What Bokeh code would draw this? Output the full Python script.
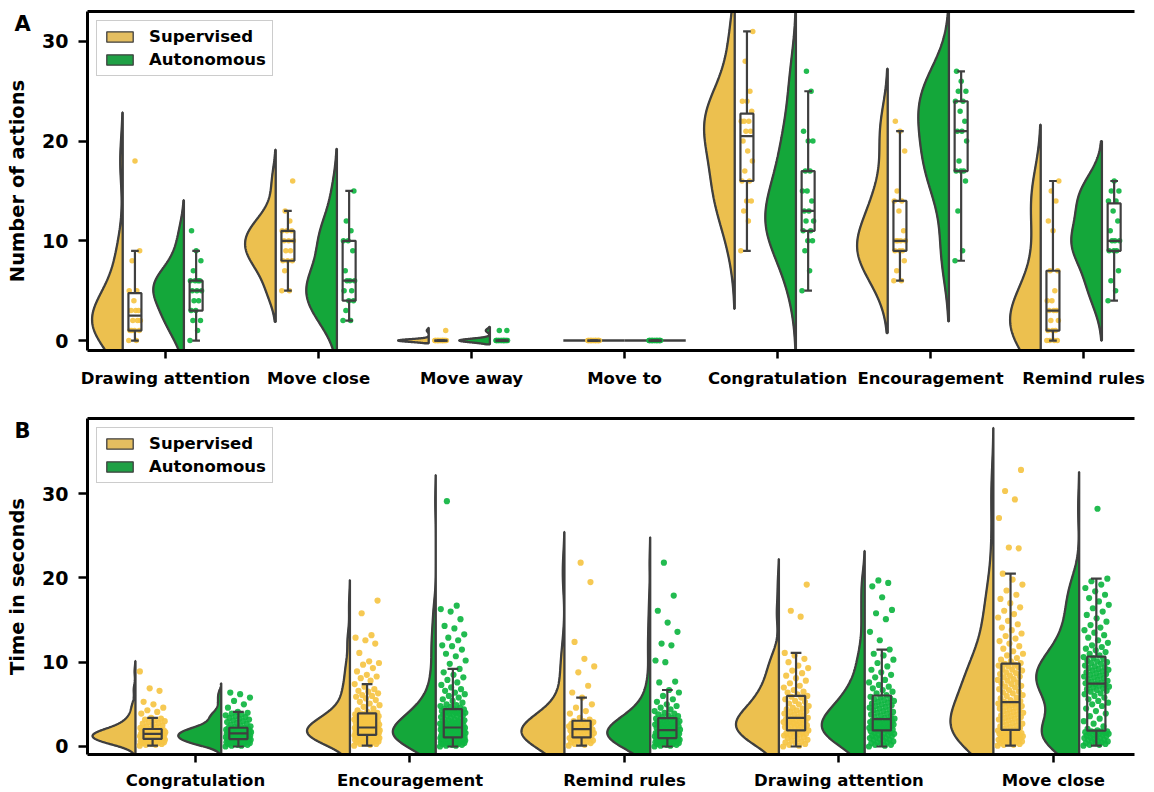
import numpy as np
from bokeh.plotting import figure
from bokeh.layouts import column
from bokeh.models import FixedTicker, LinearAxis, Legend, LegendItem, Label
from bokeh.embed import file_html
from bokeh.resources import INLINE

# ---------------- Panel A data (number of actions) ----------------
cats_a = ["Drawing attention", "Move close", "Move away", "Move to",
          "Congratulation", "Encouragement", "Remind rules"]
a_draw_sup = [0, 0, 1, 1, 1, 1, 2, 2, 2, 3, 3, 3, 4, 5, 5, 8, 9, 18]
a_draw_aut = [0, 1, 2, 2, 3, 3, 4, 4, 5, 5, 5, 6, 6, 6, 6, 7, 8, 9, 11]
a_close_sup = [5, 5, 7, 8, 8, 8, 9, 9, 10, 10, 10, 11, 11, 11, 12, 13, 16]
a_close_aut = [2, 2, 3, 4, 4, 5, 5, 6, 6, 6, 7, 9, 10, 10, 11, 12, 15]
a_away_sup = [0, 0, 0, 0, 0, 0, 0, 0, 0, 0, 0, 0, 0, 0, 0, 0, 1]
a_away_aut = [0, 0, 0, 0, 0, 0, 0, 0, 0, 0, 0, 0, 0, 0, 0, 1, 1]
a_to_sup = [0, 0, 0, 0, 0, 0, 0, 0, 0, 0, 0, 0, 0, 0, 0, 0, 0]
a_to_aut = [0, 0, 0, 0, 0, 0, 0, 0, 0, 0, 0, 0, 0, 0, 0, 0, 0]
a_cong_sup = [9, 12, 13, 14, 14, 16, 16, 17, 18, 19, 20, 21, 21, 22, 22, 22, 23, 24, 24, 25, 28, 31]
a_cong_aut = [5, 7, 9, 10, 10, 11, 11, 12, 12, 13, 13, 14, 15, 15, 17, 17, 20, 20, 21, 25, 27]
a_enc_sup = [6, 6, 7, 8, 9, 9, 9, 10, 10, 10, 10, 11, 13, 14, 14, 15, 19, 21, 22]
a_enc_aut = [8, 9, 13, 16, 17, 17, 17, 18, 20, 21, 21, 22, 23, 24, 24, 25, 25, 26, 27]
a_rem_sup = [0, 0, 0, 0, 1, 1, 1, 2, 2, 3, 3, 3, 4, 4, 5, 7, 7, 11, 12, 14, 15, 16]
a_rem_aut = [4, 5, 6, 7, 9, 9, 9, 10, 10, 10, 11, 12, 13, 14, 14, 15, 15, 16]
a_sup = [a_draw_sup, a_close_sup, a_away_sup, a_to_sup, a_cong_sup, a_enc_sup, a_rem_sup]
a_aut = [a_draw_aut, a_close_aut, a_away_aut, a_to_aut, a_cong_aut, a_enc_aut, a_rem_aut]
yticks_a = [0, 10, 20, 30]

# ---------------- Panel B data (time in seconds) ----------------
cats_b = ["Congratulation", "Encouragement", "Remind rules", "Drawing attention", "Move close"]
b_cong_sup = [0.1, 0.2, 0.2, 0.3, 0.3, 0.4, 0.4, 0.4, 0.5, 0.5, 0.5, 0.6, 0.6, 0.6, 0.7, 0.7, 0.7, 0.7, 0.8, 0.8, 0.8, 0.8,
              0.9, 0.9, 0.9, 1.0, 1.0, 1.0, 1.0, 1.1, 1.1, 1.1, 1.1, 1.2, 1.2, 1.2, 1.2, 1.3, 1.3, 1.3, 1.3, 1.4, 1.4, 1.4, 1.5,
              1.5, 1.5, 1.5, 1.6, 1.6, 1.6, 1.6, 1.7, 1.7, 1.7, 1.7, 1.8, 1.8, 1.8, 1.8, 1.9, 1.9, 1.9, 1.9, 2.0, 2.0, 2.0,
              2.1, 2.2, 2.3, 2.4, 2.5, 2.6, 2.7, 2.8, 2.9, 3.0, 3.1, 3.2, 3.3, 3.4, 3.9, 4.1, 4.3, 4.6, 5.0, 5.3, 6.6, 6.9, 8.9]
b_cong_aut = [0.0, 0.1, 0.1, 0.2, 0.2, 0.3, 0.3, 0.3, 0.4, 0.4, 0.4, 0.5, 0.5, 0.5, 0.6, 0.6, 0.6, 0.6, 0.7, 0.7, 0.7, 0.8, 0.8, 0.8, 0.8,
              0.9, 0.9, 0.9, 1.0, 1.0, 1.0, 1.0, 1.1, 1.1, 1.1, 1.2, 1.2, 1.2, 1.2, 1.3, 1.3, 1.3, 1.3, 1.4, 1.4, 1.4, 1.4, 1.5, 1.5, 1.5,
              1.6, 1.6, 1.6, 1.6, 1.7, 1.7, 1.7, 1.7, 1.8, 1.8, 1.8, 1.8, 1.9, 1.9, 1.9, 2.0, 2.0, 2.0, 2.0, 2.1, 2.1, 2.1, 2.2, 2.2, 2.2,
              2.3, 2.4, 2.5, 2.6, 2.7, 2.8, 2.9, 3.0, 3.1, 3.2, 3.3, 3.4, 3.5, 3.6, 3.7, 3.8, 3.9, 4.0, 4.1, 4.6, 5.0, 5.4, 5.8, 6.2, 6.4]
b_enc_sup = [0.1, 0.2, 0.3, 0.3, 0.4, 0.5, 0.5, 0.6, 0.6, 0.7, 0.7, 0.7, 0.8, 0.8, 0.8, 0.9, 0.9, 0.9, 1.0, 1.0, 1.0, 1.0,
             1.1, 1.1, 1.1, 1.1, 1.2, 1.2, 1.2, 1.2, 1.2, 1.3, 1.3, 1.3, 1.3,
             1.4, 1.4, 1.4, 1.5, 1.5, 1.5, 1.5, 1.6, 1.6, 1.6, 1.6, 1.7, 1.7, 1.7, 1.7, 1.8, 1.8, 1.8, 1.8, 1.9, 1.9, 1.9, 1.9,
             2.0, 2.0, 2.0, 2.0, 2.1, 2.1, 2.1, 2.1, 2.2, 2.2, 2.2, 2.2,
             2.3, 2.3, 2.4, 2.4, 2.5, 2.5, 2.6, 2.6, 2.7, 2.7, 2.8, 2.8, 2.9, 2.9, 3.0, 3.0, 3.1, 3.1, 3.2, 3.2, 3.3, 3.3,
             3.4, 3.4, 3.5, 3.5, 3.6, 3.6, 3.7, 3.7, 3.8, 3.8, 3.8, 3.9, 3.9,
             4.0, 4.1, 4.3, 4.5, 4.7, 4.9, 5.1, 5.3, 5.5, 5.7, 5.9, 6.0, 6.1, 6.3, 6.5, 6.6, 6.8, 7.1, 7.4, 7.8,
             8.1, 8.3, 8.5, 8.9, 9.3, 9.7, 9.9, 10.1, 11.1, 12.2, 12.6, 12.9, 13.2, 15.8, 17.3]
b_enc_aut = [0.0, 0.1, 0.1, 0.2, 0.2, 0.3, 0.3, 0.3, 0.4, 0.4, 0.4, 0.5, 0.5, 0.5, 0.5, 0.6, 0.6, 0.6, 0.6,
             0.7, 0.7, 0.7, 0.7, 0.7, 0.8, 0.8, 0.8, 0.8, 0.8, 0.9, 0.9, 0.9, 0.9, 0.9, 1.0, 1.0, 1.0, 1.0, 1.0, 1.0,
             1.1, 1.1, 1.1, 1.2, 1.2, 1.2, 1.3, 1.3, 1.3, 1.4, 1.4, 1.4, 1.5, 1.5, 1.5, 1.6, 1.6, 1.6, 1.7, 1.7, 1.7,
             1.8, 1.8, 1.8, 1.9, 1.9, 1.9, 2.0, 2.0, 2.0, 2.0, 2.1, 2.1, 2.1, 2.1, 2.2, 2.2, 2.2, 2.2, 2.2,
             2.3, 2.3, 2.4, 2.4, 2.5, 2.5, 2.6, 2.6, 2.7, 2.7, 2.8, 2.8, 2.9, 2.9, 3.0, 3.0, 3.1, 3.1, 3.2, 3.2,
             3.3, 3.4, 3.5, 3.6, 3.7, 3.7, 3.8, 3.8, 3.9, 3.9, 4.0, 4.0, 4.1, 4.1, 4.2, 4.2, 4.3, 4.3, 4.4, 4.4,
             4.5, 4.6, 4.7, 4.8, 4.9, 5.0, 5.2, 5.4, 5.6, 5.8, 6.0, 6.2, 6.4, 6.6, 6.8, 7.0, 7.3, 7.6, 7.9, 8.2,
             8.5, 8.8, 9.2, 9.8, 10.2, 10.7, 11.0, 11.5, 11.9, 12.0, 12.6, 12.9, 13.3, 14.0, 14.3, 15.1, 16.0, 16.3, 16.7, 29.1]
b_rem_sup = [0.1, 0.2, 0.3, 0.4, 0.5, 0.5, 0.6, 0.7, 0.7, 0.8, 0.8, 0.9, 0.9, 1.0, 1.0,
             1.1, 1.2, 1.3, 1.4, 1.5, 1.5, 1.6, 1.7, 1.7, 1.8, 1.8, 1.9, 1.9, 2.0, 2.0,
             2.1, 2.2, 2.2, 2.3, 2.4, 2.4, 2.5, 2.6, 2.6, 2.7, 2.8, 2.8, 2.9, 3.0, 3.0,
             3.2, 3.4, 3.9, 4.2, 4.6, 5.0, 5.8, 6.4, 7.2, 8.8, 9.5, 10.4, 12.4, 19.5, 21.8]
b_rem_aut = [0.0, 0.1, 0.1, 0.2, 0.2, 0.3, 0.3, 0.3, 0.4, 0.4, 0.4, 0.5, 0.5, 0.5, 0.6, 0.6, 0.6, 0.7, 0.7, 0.7,
             0.8, 0.8, 0.8, 0.8, 0.9, 0.9, 0.9,
             1.0, 1.0, 1.0, 1.1, 1.1, 1.1, 1.2, 1.2, 1.2, 1.3, 1.3, 1.3, 1.4, 1.4, 1.4, 1.5, 1.5, 1.5, 1.6, 1.6, 1.6,
             1.7, 1.7, 1.7, 1.8, 1.8, 1.9, 1.9,
             2.0, 2.0, 2.1, 2.1, 2.2, 2.2, 2.3, 2.3, 2.4, 2.4, 2.5, 2.5, 2.6, 2.6, 2.7, 2.7, 2.8, 2.8, 2.9, 2.9,
             3.0, 3.0, 3.1, 3.1, 3.2, 3.2, 3.3,
             3.4, 3.5, 3.6, 3.7, 3.8, 3.9, 4.0, 4.2, 4.4, 4.6, 4.8, 5.0, 5.3, 5.6, 6.0, 6.4, 6.7,
             7.6, 7.7, 10.0, 10.2, 12.0, 12.2, 13.6, 14.7, 16.1, 17.9, 21.8]
b_draw_sup = [0.0, 0.1, 0.2, 0.3, 0.4, 0.5, 0.6, 0.7, 0.8, 0.9, 1.0, 1.1, 1.2, 1.3, 1.4, 1.4, 1.5, 1.6, 1.6, 1.7, 1.8,
              1.9, 2.0, 2.1, 2.2, 2.3, 2.3, 2.4, 2.5, 2.5, 2.6, 2.7, 2.7, 2.8, 2.9, 2.9, 3.0, 3.0, 3.1, 3.2, 3.2, 3.3,
              3.4, 3.5, 3.6, 3.7, 3.8, 3.9, 4.0, 4.1, 4.2, 4.3, 4.4, 4.5, 4.6, 4.8, 5.0, 5.1, 5.3, 5.4, 5.6, 5.8, 5.9,
              6.0, 6.2, 6.4, 6.5, 6.7, 7.0, 7.2, 7.5, 7.8, 8.1, 8.4, 8.7, 9.0, 9.3, 9.6, 10.0, 10.4, 10.8, 11.1,
              15.4, 16.1, 19.2]
b_draw_aut = [0.0, 0.1, 0.2, 0.2, 0.3, 0.4, 0.5, 0.5, 0.6, 0.7, 0.8, 0.8, 0.9, 1.0, 1.0, 1.1, 1.2, 1.2, 1.3, 1.4,
              1.4, 1.5, 1.6, 1.6, 1.7, 1.8, 1.8,
              1.9, 1.9, 2.0, 2.0, 2.1, 2.1, 2.2, 2.2, 2.3, 2.3, 2.4, 2.4, 2.5, 2.5, 2.6, 2.6, 2.7, 2.7, 2.8, 2.8,
              2.9, 2.9, 3.0, 3.0, 3.1, 3.1, 3.2, 3.2,
              3.3, 3.4, 3.5, 3.6, 3.7, 3.8, 3.9, 4.0, 4.1, 4.2, 4.3, 4.4, 4.5, 4.6, 4.7, 4.8, 4.9, 5.0, 5.1, 5.2,
              5.3, 5.4, 5.5, 5.6, 5.7, 5.8, 5.9,
              6.1, 6.3, 6.5, 6.7, 6.9, 7.1, 7.3, 7.6, 7.9, 8.2, 8.5, 8.8, 9.1, 9.5, 9.9, 10.3, 10.8, 11.0, 11.5,
              12.6, 13.6, 15.1, 15.8, 16.2, 17.7, 19.0, 19.4, 19.7]
b_move_sup = [0.1, 0.2, 0.2, 0.3, 0.4, 0.4, 0.5, 0.5, 0.6, 0.6, 0.7, 0.7, 0.8, 0.8, 0.9, 0.9, 1.0, 1.0, 1.1, 1.1,
              1.2, 1.2, 1.3, 1.3, 1.4, 1.4, 1.5, 1.5, 1.6, 1.6, 1.7, 1.7, 1.8, 1.8, 1.9,
              2.0, 2.1, 2.2, 2.3, 2.4, 2.5, 2.6, 2.7, 2.8, 2.9, 3.0, 3.1, 3.2, 3.3, 3.4, 3.5, 3.6, 3.7, 3.8, 3.9,
              4.0, 4.1, 4.2, 4.3, 4.4, 4.5, 4.6, 4.7, 4.8, 4.9, 5.0, 5.0, 5.1, 5.1, 5.2,
              5.3, 5.4, 5.5, 5.7, 5.8, 6.0, 6.1, 6.3, 6.4, 6.5, 6.7, 6.8, 7.0, 7.1, 7.2, 7.4, 7.5, 7.6, 7.8, 7.9,
              8.0, 8.2, 8.3, 8.4, 8.6, 8.7, 8.8, 9.0, 9.1, 9.2, 9.4, 9.5, 9.6, 9.7, 9.8,
              9.9, 10.1, 10.3, 10.5, 10.8, 11.0, 11.3, 11.6, 11.9, 12.2, 12.5, 12.8, 13.1, 13.4, 13.8,
              14.1, 14.5, 14.9, 15.3, 15.7, 16.1, 16.5, 17.0, 17.5, 18.0, 18.5, 19.2, 19.8, 20.5,
              23.5, 23.6, 27.1, 29.3, 30.3, 32.8]
b_move_aut = [0.1, 0.2, 0.2, 0.3, 0.4, 0.4, 0.5, 0.6, 0.6, 0.7, 0.8, 0.8, 0.9, 1.0, 1.0, 1.1, 1.2, 1.2, 1.3, 1.4,
              1.4, 1.5, 1.5, 1.6, 1.6, 1.7, 1.7, 1.8, 1.8, 1.8,
              1.9, 2.1, 2.4, 2.7, 3.0, 3.3, 3.6, 3.9, 4.2, 4.5, 4.8, 5.0, 5.2, 5.4, 5.6, 5.8, 6.0, 6.2, 6.3, 6.5,
              6.6, 6.7, 6.8, 6.9, 7.0, 7.1, 7.2, 7.3, 7.3, 7.4,
              7.5, 7.6, 7.7, 7.8, 7.9, 8.0, 8.1, 8.2, 8.3, 8.4, 8.5, 8.6, 8.7, 8.8, 8.9, 9.0, 9.1, 9.2, 9.3, 9.4,
              9.5, 9.6, 9.8, 9.9, 10.0, 10.1, 10.2, 10.4, 10.5, 10.6,
              10.8, 11.0, 11.2, 11.4, 11.6, 11.8, 12.0, 12.3, 12.6, 12.9, 13.2, 13.5, 13.8, 14.1, 14.4,
              14.8, 15.2, 15.6, 16.0, 16.4, 16.8, 17.2, 17.6, 18.0, 18.4, 18.8, 19.2, 19.6, 19.9, 28.2]
b_sup = [b_cong_sup, b_enc_sup, b_rem_sup, b_draw_sup, b_move_sup]
b_aut = [b_cong_aut, b_enc_aut, b_rem_aut, b_draw_aut, b_move_aut]
yticks_b = [0, 10, 20, 30]

series_names = ["Supervised", "Autonomous"]

# ---------------- style ----------------
FONT = "DejaVu Sans"
EDGE = "#3f3f3f"
SUP_FILL, AUT_FILL = "#ECC04F", "#14A73A"
SUP_PT, AUT_PT = "#F5C444", "#0FB541"
SUP_LEG, AUT_LEG = "#E4BE60", "#1FA045"
GROUP_OFF = 0.2     # supervised / autonomous offset from category
VIOL_SHIFT = 0.08   # flat edge of half violin left of group centre
VIOL_W = 0.2        # max half-violin width
BOX_HW = 0.0425
CAP_HW = 0.025


def draw_group(p, cx, vals, fill, pcol, jit, leg_fill, psize):
    v = np.asarray(vals, dtype=float)
    edge = cx - VIOL_SHIFT
    sd = v.std(ddof=1)
    leg_r = None
    if sd > 0:
        bw = sd * len(v) ** (-0.2)
        ys = np.linspace(v.min() - 2 * bw, v.max() + 2 * bw, 300)
        dens = np.exp(-0.5 * ((ys[:, None] - v[None, :]) / bw) ** 2).sum(axis=1)
        dens = dens / dens.max()
        xs = np.concatenate([[edge], edge - VIOL_W * dens, [edge]])
        yy = np.concatenate([[ys[0]], ys, [ys[-1]]])
        # thin-outlined copy underneath, used as the legend swatch
        leg_r = p.patch(xs, yy, fill_color=leg_fill, line_color=EDGE, line_width=1.3)
        p.patch(xs, yy, fill_color=fill, line_color=EDGE, line_width=2.3)
    else:
        p.segment(x0=[cx - GROUP_OFF], y0=[v[0]], x1=[cx + GROUP_OFF], y1=[v[0]],
                  line_color=EDGE, line_width=2.5)
    idx = np.arange(len(v))
    jx = cx + (((idx * 0.6180339887) % 1.0) - 0.5) * 2 * jit
    p.scatter(jx, v, size=psize, fill_color=pcol, line_color=None, fill_alpha=0.92)
    q1, med, q3 = np.percentile(v, [25, 50, 75])
    iqr = q3 - q1
    lo = v[v >= q1 - 1.5 * iqr].min()
    hi = v[v <= q3 + 1.5 * iqr].max()
    p.quad(left=[cx - BOX_HW], right=[cx + BOX_HW], bottom=[q1], top=[q3],
           fill_color=None, line_color=EDGE, line_width=2.2)
    p.segment(x0=[cx - BOX_HW, cx, cx, cx - CAP_HW, cx - CAP_HW],
              y0=[med, q3, q1, hi, lo],
              x1=[cx + BOX_HW, cx, cx, cx + CAP_HW, cx + CAP_HW],
              y1=[med, hi, lo, hi, lo], line_color=EDGE, line_width=2.2)
    return leg_r


def make_panel(cats, sups, auts, yticks, x_rng, y_rng, ylabel, letter, height,
               b_top, b_bottom, x_standoff, jit, psize):
    p = figure(width=1154, height=height, x_range=x_rng, y_range=y_rng,
               output_backend="svg", toolbar_location=None,
               min_border_left=87, min_border_right=20,
               min_border_top=b_top, min_border_bottom=b_bottom,
               background_fill_color="white", border_fill_color="white")
    p.outline_line_color = None
    p.xgrid.visible = False
    p.ygrid.visible = False

    leg_s, leg_a = None, None
    for i in range(len(cats)):
        rs = draw_group(p, i - GROUP_OFF, sups[i], SUP_FILL, SUP_PT, jit, SUP_LEG, psize)
        ra = draw_group(p, i + GROUP_OFF, auts[i], AUT_FILL, AUT_PT, jit, AUT_LEG, psize)
        leg_s = leg_s or rs
        leg_a = leg_a or ra

    # axes
    for ax in (p.xaxis, p.yaxis):
        ax.axis_line_width = 3
        ax.axis_line_color = "black"
        ax.major_tick_line_width = 2.5
        ax.major_tick_line_color = "black"
        ax.major_tick_in = 0
        ax.minor_tick_line_color = None
        ax.major_label_text_font = FONT
        ax.major_label_text_font_style = "bold"
        ax.major_label_text_color = "black"
    p.xaxis.ticker = FixedTicker(ticks=list(range(len(cats))))
    p.xaxis.major_label_overrides = {i: c for i, c in enumerate(cats)}
    p.xaxis.major_label_text_font_size = "16.5px"
    p.xaxis.major_tick_out = 8
    p.xaxis.major_label_standoff = x_standoff
    p.yaxis.ticker = FixedTicker(ticks=yticks)
    p.yaxis.major_label_text_font_size = "19px"
    p.yaxis.major_tick_out = 9
    p.yaxis.major_label_standoff = 10
    p.yaxis.axis_label = ylabel
    p.yaxis.axis_label_text_font = FONT
    p.yaxis.axis_label_text_font_style = "bold"
    p.yaxis.axis_label_text_font_size = "19.5px"
    p.yaxis.axis_label_text_color = "black"
    p.yaxis.axis_label_standoff = 10

    top = LinearAxis(ticker=FixedTicker(ticks=[]), axis_line_width=3, axis_line_color="black",
                     major_tick_line_color=None, minor_tick_line_color=None,
                     major_tick_out=0, major_tick_in=0, minor_tick_out=0,
                     major_label_standoff=0, major_label_text_font_size="0px")
    p.add_layout(top, "above")

    # legend
    leg = Legend(items=[LegendItem(label=series_names[0], renderers=[leg_s]),
                        LegendItem(label=series_names[1], renderers=[leg_a])],
                 location="top_left", margin=9, padding=6, spacing=4,
                 glyph_width=33, glyph_height=13, label_standoff=13, label_height=18,
                 label_text_font=FONT, label_text_font_style="bold", label_text_font_size="16.5px",
                 label_text_color="black",
                 border_line_color="#cccccc", border_line_width=1.5, border_line_alpha=1.0,
                 background_fill_color="white", background_fill_alpha=0.85)
    p.add_layout(leg)

    # panel letter (placed in a side panel so that it is not clipped to the frame)
    p.add_layout(Label(x=x_rng[0], y=y_rng[1], x_offset=-73, y_offset=0, text=letter,
                       text_font=FONT, text_font_style="bold", text_font_size="21px",
                       text_baseline="top", text_align="left", text_color="black"), "right")
    return p


pA = make_panel(cats_a, a_sup, a_aut, yticks_a, (-0.51, 6.333), (-1.0, 33.0),
                "Number of actions", "A", 395, 11, 45, 10, 0.04, 5.5)
pB = make_panel(cats_b, b_sup, b_aut, yticks_b, (-0.5035, 4.378), (-0.95, 38.9),
                "Time in seconds", "B", 397, 23, 35, 8, 0.06, 6.2)

layout = column(pA, pB)
open("out.html", "w").write(file_html(layout, INLINE))
